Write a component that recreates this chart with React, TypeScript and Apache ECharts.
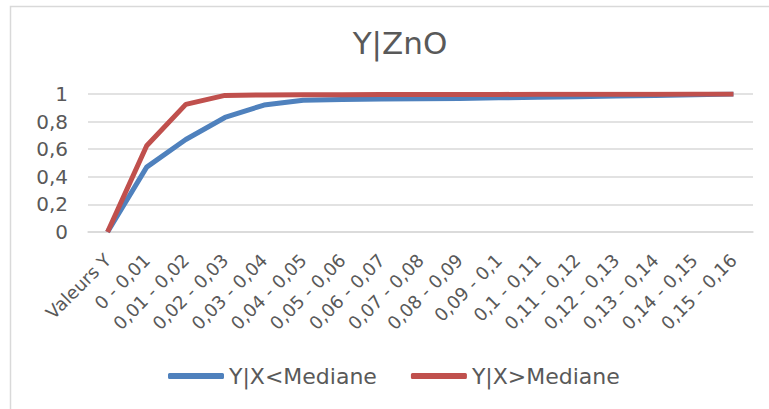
import React, { useEffect, useRef } from "react";
import * as echarts from "echarts";

const categories = [
  "Valeurs Y",
  "0 - 0,01",
  "0,01 - 0,02",
  "0,02 - 0,03",
  "0,03 - 0,04",
  "0,04 - 0,05",
  "0,05 - 0,06",
  "0,06 - 0,07",
  "0,07 - 0,08",
  "0,08 - 0,09",
  "0,09 - 0,1",
  "0,1 - 0,11",
  "0,11 - 0,12",
  "0,12 - 0,13",
  "0,13 - 0,14",
  "0,14 - 0,15",
  "0,15 - 0,16",
];

const belowMedian = [0, 0.47, 0.67, 0.83, 0.92, 0.955, 0.96, 0.963, 0.966, 0.968, 0.972, 0.976, 0.98, 0.985, 0.99, 0.995, 1];
const aboveMedian = [0, 0.625, 0.925, 0.99, 0.993, 0.995, 0.995, 0.996, 0.996, 0.997, 0.997, 0.998, 0.998, 0.999, 0.999, 1, 1];

const yTickLabels = ["0", "0,2", "0,4", "0,6", "0,8", "1"];

const seriesNames = ["Y|X<Mediane", "Y|X>Mediane"];
const chartTitle = "Y|ZnO";

const FONT = "DejaVu Sans";
const TEXT = "#595959";
const GRID = "#D9D9D9";

export default function App() {
  const ref = useRef<HTMLDivElement>(null);

  useEffect(() => {
    if (!ref.current) return;
    const chart = echarts.init(ref.current, null, { renderer: "svg" });
    chart.setOption({
      animation: false,
      backgroundColor: "#fff",
      textStyle: { fontFamily: FONT },
      title: {
        text: chartTitle,
        left: 395,
        textAlign: "center",
        top: 22,
        textStyle: { fontFamily: FONT, fontSize: 31, fontWeight: "normal", color: TEXT },
      },
      legend: {
        left: 163,
        top: 360,
        itemWidth: 56,
        itemHeight: 6,
        itemGap: 34,
        icon: "roundRect",
        textStyle: { fontFamily: FONT, fontSize: 22, color: TEXT },
        data: seriesNames,
      },
      grid: { left: 88, right: 16, top: 94, bottom: 177, outerBoundsMode: "none" },
      xAxis: {
        type: "category",
        data: categories,
        boundaryGap: true,
        axisTick: { show: false },
        axisLine: { lineStyle: { color: GRID, width: 1.5 } },
        axisLabel: {
          interval: 0,
          rotate: 45,
          margin: 25,
          fontFamily: FONT,
          fontSize: 18,
          color: TEXT,
        },
      },
      yAxis: {
        type: "value",
        min: 0,
        max: 1,
        interval: 0.2,
        axisLine: { show: false },
        axisTick: { show: false },
        splitLine: { lineStyle: { color: GRID, width: 1.5 } },
        axisLabel: {
          margin: 20,
          fontFamily: FONT,
          fontSize: 20,
          color: TEXT,
          formatter: (v: number) => yTickLabels[Math.round(v / 0.2)],
        },
      },
      series: [
        {
          name: seriesNames[0],
          type: "line",
          data: belowMedian,
          showSymbol: false,
          symbol: "none",
          color: "#4F81BD",
          lineStyle: { width: 5, color: "#4F81BD" },
        },
        {
          name: seriesNames[1],
          type: "line",
          data: aboveMedian,
          showSymbol: false,
          symbol: "none",
          color: "#C0504D",
          lineStyle: { width: 5, color: "#C0504D" },
        },
      ],
      graphic: [
        {
          type: "rect",
          silent: true,
          shape: { x: 10.5, y: 6.5, width: 780, height: 430 },
          style: { fill: "none", stroke: GRID, lineWidth: 1.5 },
        },
      ],
    });
    return () => chart.dispose();
  }, []);

  return (
    <div
      ref={ref}
      style={{ position: "fixed", left: 0, top: 0, width: 769, height: 409 }}
    />
  );
}
